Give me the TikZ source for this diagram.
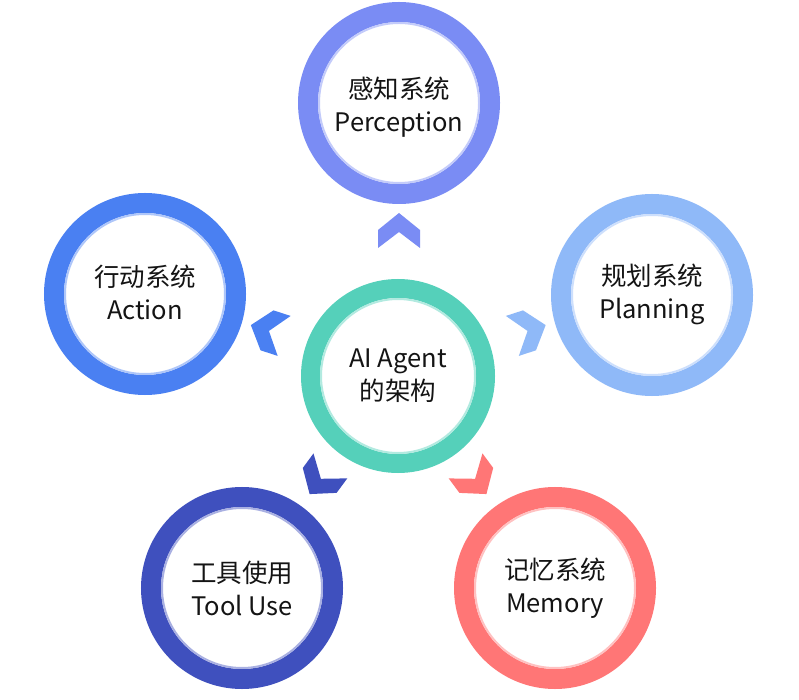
\documentclass[tikz,border=0pt]{standalone}
\usepackage{fontspec}
\setmainfont{Noto Sans CJK SC}
\definecolor{cPer}{HTML}{7A8CF4}
\definecolor{cAct}{HTML}{4A80F2}
\definecolor{cPlan}{HTML}{8FB9F8}
\definecolor{cCen}{HTML}{55D0BA}
\definecolor{cTool}{HTML}{3F50BE}
\definecolor{cMem}{HTML}{FF7676}
\definecolor{ink}{HTML}{141414}
\tikzset{
  ring/.style={circle, draw=#1, line width=20pt, minimum size=182pt, inner sep=0pt,
    fill=white, align=center, text=ink, font=\fontsize{25.5pt}{33pt}\selectfont},
  rim/.style={draw=#1!45, line width=2pt},
  lbl/.style={align=center, text=ink, font=\fontsize{25.5pt}{33pt}\selectfont},
  chev/.pic={\fill (17.5,0) -- (0.5,21) -- (-17.5,21) -- (-1.5,0) -- (-17.5,-21) -- (0.5,-21) -- cycle;}
}
\begin{document}
\begin{tikzpicture}[x=1pt,y=1pt]
\useasboundingbox (0,0) rectangle (799,699);
\fill[white] (0,0) rectangle (799,699);
% rings
\node[ring=cPer]  (per)  at (399,596) {};
\draw[rim=cPer] (per.center) circle (80);
\node[lbl] (perT) at ([yshift=-4pt]per.center) {感知系统\\Perception};
\node[ring=cAct]  (act)  at (145,405) {};
\draw[rim=cAct] (act.center) circle (80);
\node[lbl] (actT) at ([yshift=2pt]act.center) {行动系统\\Action};
\node[ring=cPlan] (plan) at (652,404) {};
\draw[rim=cPlan] (plan.center) circle (80);
\node[lbl] (planT) at ([yshift=1pt]plan.center) {规划系统\\Planning};
\node[ring=cTool] (tool) at (242,111) {};
\draw[rim=cTool] (tool.center) circle (80);
\node[lbl] (toolT) at (tool.center) {工具使用\\Tool Use};
\node[ring=cMem]  (mem)  at (555,111) {};
\draw[rim=cMem] (mem.center) circle (80);
\node[lbl] (memT) at (mem.center) {记忆系统\\Memory};
\node[ring=cCen, line width=19pt, minimum size=175pt] (cen) at (398,323) {};
\draw[rim=cCen] (cen.center) circle (77);
\node[lbl] (cenT) at (cen.center) {AI Agent\\的架构};
% chevrons
\coordinate (kPer)  at (399,468.5);
\coordinate (kAct)  at (267.5,368.5);
\coordinate (kPlan) at (529,368.5);
\coordinate (kTool) at (320,219);
\coordinate (kMem)  at (476,219);
\pic[fill=cPer, rotate=90]     at (kPer)  {chev};
\pic[fill=cAct, rotate=162]    at (kAct)  {chev};
\pic[fill=cPlan, rotate=18]    at (kPlan) {chev};
\pic[fill=cTool, rotate=233.6] at (kTool) {chev};
\pic[fill=cMem, rotate=306.5]  at (kMem)  {chev};
\end{tikzpicture}
\end{document}
